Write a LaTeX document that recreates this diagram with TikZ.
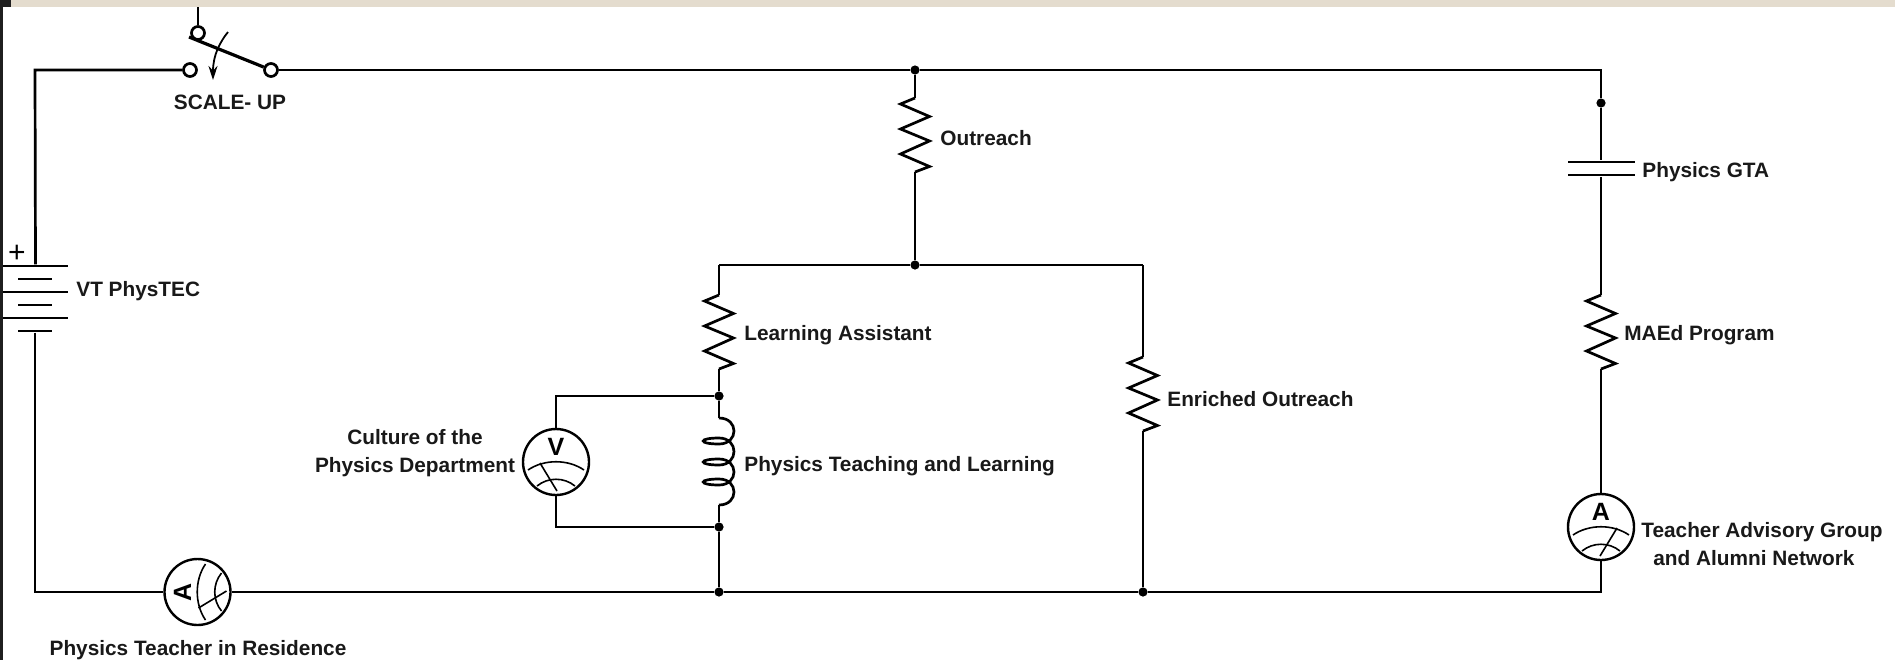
\documentclass[tikz,border=0pt]{standalone}
\usepackage{fontspec}
\setmainfont{Liberation Sans}
\usetikzlibrary{arrows.meta}

\definecolor{strip}{HTML}{E4DCCE}

\tikzset{
	wire/.style = {line width = 1.35pt},
	lab/.style = {inner sep = 0, font = \fontsize{10.4}{14}\selectfont\bfseries, text = black!90},
	dot/.style = {circle, fill = black, inner sep = 0, minimum size = 4.6pt},
	terminal/.style = {circle, draw, wire, fill = white, inner sep = 0, minimum size = 6.5pt},
	dial/.style = {circle, draw, line width = 1.2pt, inner sep = 0, minimum size = 33pt},
	longplate/.style = {fill = black, inner sep = 0, minimum width = 32.5pt, minimum height = 1.2pt},
	shortplate/.style = {fill = black, inner sep = 0, minimum width = 17pt, minimum height = 1.2pt},
	capplate/.style = {fill = black, inner sep = 0, minimum width = 33.5pt, minimum height = 1.2pt},
	pics/resistor/.style = {code = {
		\coordinate (-in) at (0,0);
		\coordinate (-out) at (0,74);
		\draw[wire, line join = miter] (-in) -- (-14.5,6) -- (14.5,18.5) -- (-14.5,31) -- (14.5,43) -- (-14.5,56) -- (14.5,68.5) -- (-out);
	}},
	pics/coil/.style = {code = {
		\coordinate (-in) at (0,0);
		\coordinate (-out) at (0,87);
		\draw[wire] (-in) .. controls (20,0) and (20,26) .. (0,26)
			.. controls (-21,26) and (-21,20) .. (0,20)
			.. controls (20,20) and (20,47) .. (0,47)
			.. controls (-21,47) and (-21,41) .. (0,41)
			.. controls (20,41) and (20,67) .. (0,67)
			.. controls (-21,67) and (-21,61) .. (0,61)
			.. controls (20,61) and (20,87) .. (-out);
	}},
	pics/meter/.style 2 args = {code = {
		\node[transform shape, inner sep = 0, font = \fontsize{12.5}{13}\selectfont\bfseries] at (0,-15) {#1};
		\draw[line width = 0.8pt] (-28,8) .. controls (-12,-3) and (12,-3) .. (28,8);
		\draw[line width = 0.8pt] (-19,24) .. controls (-8,15) and (8,15) .. (19,24);
		\draw[line width = 0.8pt] (#2*16,1) -- (#2*-1,29);
	}}
}

\begin{document}
\begin{tikzpicture}[x = 0.5pt, y = -0.5pt]

	\useasboundingbox (0,0) rectangle (1895,660);
	\fill[white] (0,0) rectangle (1895,660);
	\fill[black!88] (0,0) rectangle (3,660);
	\fill[black!88] (0,0) rectangle (11,7);
	\fill[strip] (11,0) rectangle (1895,7);

	% corners
	\coordinate (TL) at (35,70);
	\coordinate (TR) at (1601,70);
	\coordinate (BL) at (35,592);
	\coordinate (BR) at (1601,592);
	\coordinate (Vtop) at (556,396);
	\coordinate (Vbot) at (556,527);
	\coordinate (Ltop) at (719,265);
	\coordinate (Etop) at (1143,265);
	\coordinate (SWin) at (198,7);
	\coordinate (SWblade) at (189,37);
	\coordinate (Acurve) at (228,32);
	\coordinate (Bcurve) at (213,80);

	% junctions
	\node[dot] (J1) at (915,70) {};
	\node[dot] (J2) at (915,265) {};
	\node[dot] (J3) at (719,396) {};
	\node[dot] (J4) at (719,527) {};
	\node[dot] (J5) at (719,592) {};
	\node[dot] (J6) at (1143,592) {};
	\node[dot] (J7) at (1601,103) {};

	% switch
	\node[terminal] (SWl) at (190,70) {};
	\node[terminal] (SWr) at (271,70) {};
	\node[terminal] (SWt) at (198,33) {};

	% battery
	\node[longplate] (B1) at (35.5,266) {};
	\node[shortplate] (B2) at (35,279) {};
	\node[longplate] (B3) at (35.5,292) {};
	\node[shortplate] (B4) at (35,305) {};
	\node[longplate] (B5) at (35.5,318) {};
	\node[shortplate] (B6) at (35,331) {};

	% capacitor
	\node[capplate] (C1) at (1601,162) {};
	\node[capplate] (C2) at (1601,175) {};

	% meters
	\node[dial] (A1) at (197.5,592) {};
	\node[dial] (A2) at (1601,527) {};
	\node[dial] (V1) at (556,462) {};
	\pic[rotate = 90] at (A1) {meter={A}{-1}};
	\pic at (A2) {meter={A}{1}};
	\pic at (V1) {meter={V}{-1}};

	% resistors and coil
	\pic (Rout) at (915,98) {resistor};
	\pic (Rla) at (719,295) {resistor};
	\pic (Ren) at (1143,357) {resistor};
	\pic (Rma) at (1601,295) {resistor};
	\pic (L1) at (719,418) {coil};

	% outer loop
	\draw[wire] (B1) -- (TL) -- (SWl);
	\draw[wire] (SWin) -- (SWt);
	\draw[wire] (SWr) -- (J1) -- (TR) -- (J7) -- (C1);
	\draw[wire] (B6) -- (BL) -- (A1) -- (J5) -- (J6) -- (BR) -- (A2);
	\draw[wire] (A2) -- (Rma-out);
	\draw[wire] (Rma-in) -- (C2);

	% middle branches
	\draw[wire] (J1) -- (Rout-in);
	\draw[wire] (Rout-out) -- (J2);
	\draw[wire] (Ltop) -- (J2) -- (Etop);
	\draw[wire] (Ltop) -- (Rla-in);
	\draw[wire] (Rla-out) -- (J3) -- (L1-in);
	\draw[wire] (L1-out) -- (J4) -- (J5);
	\draw[wire] (Etop) -- (Ren-in);
	\draw[wire] (Ren-out) -- (J6);

	% voltmeter loop
	\draw[wire] (J3) -- (Vtop) -- (V1);
	\draw[wire] (V1) -- (Vbot) -- (J4);

	% switch blade
	\draw[line width = 1.6pt] (SWblade) -- (SWr);
	\draw[line width = 0.9pt, -{Stealth[length = 7pt, width = 4.5pt]}] (Acurve) .. controls (220,42) and (213,55) .. (Bcurve);

	% labels
	\node[inner sep = 0, font = \fontsize{15}{16}\selectfont] (Plus) at (17,254) {+};
	\node[lab] (Tscale) at (230,102) {SCALE- UP};
	\node[lab, anchor = west] (Tvt) at (76,291) {VT PhysTEC};
	\node[lab] (Tres) at (198,650) {Physics Teacher in Residence};
	\node[lab, anchor = west] (Tout) at (940,138) {Outreach};
	\node[lab, anchor = west] (Tla) at (744,335) {Learning Assistant};
	\node[lab, anchor = west] (Ten) at (1167,399) {Enriched Outreach};
	\node[lab, anchor = west] (Tptl) at (744,466) {Physics Teaching and Learning};
	\node[lab, align = center] (Tcul) at (415,453) {Culture of the\\Physics Department};
	\node[lab, anchor = west] (Tgta) at (1642,172) {Physics GTA};
	\node[lab, anchor = west] (Tmae) at (1624,335) {MAEd Program};
	\node[lab, anchor = west, align = left] (Ttag) at (1641,544) {Teacher Advisory Group\\\hspace{6pt}and Alumni Network};

\end{tikzpicture}
\end{document}
